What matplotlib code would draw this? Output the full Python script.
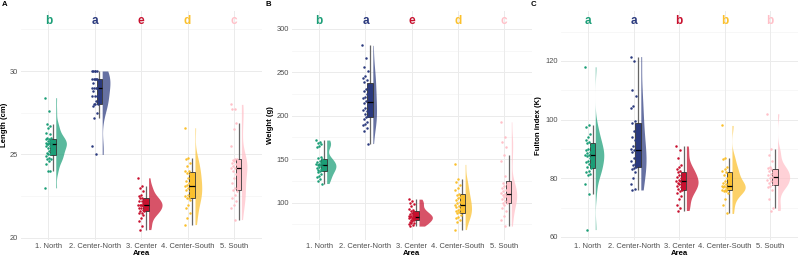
import numpy as np
import matplotlib
matplotlib.use("Agg")
import matplotlib.pyplot as plt
from matplotlib.patches import Rectangle

plt.rcParams['font.family'] = ['Liberation Sans', 'DejaVu Sans']

areas = ["1. North", "2. Center-North", "3. Center", "4. Center-South", "5. South"]
colors = ["#1B9E77", "#2B3A7E", "#C8102E", "#FBC02D", "#FFC0C8"]

# Panel A: Length (cm)
length_north = [28.4, 27.6, 26.8, 26.7, 26.6, 26.3, 26.2, 26.0, 26.0, 25.9, 25.9, 25.8, 25.8, 25.7, 25.7,
                25.6, 25.6, 25.6, 25.5, 25.5, 25.4, 25.3, 25.2, 25.1, 25.0, 25.0, 24.9, 24.8, 24.7, 24.7,
                24.6, 24.4, 24.0, 24.0, 23.0]
length_cnorth = [30, 30, 30, 30, 30, 29.5, 29.5, 29.5, 29.5, 29.5, 29.3, 29, 29, 29, 29, 28.8, 28.5, 28.5,
                 28.5, 28.2, 28, 28, 28, 27.9, 27.5, 27.2, 25.5, 25.0]
length_center = [23.6, 23.1, 23.0, 22.8, 22.6, 22.5, 22.4, 22.4, 22.3, 22.2, 22.2, 22.1, 22.0, 22.0, 22.0,
                 22.0, 21.9, 21.8, 21.8, 21.7, 21.6, 21.6, 21.5, 21.5, 21.4, 21.2, 21.0, 20.7, 20.5]
length_csouth = [26.6, 24.8, 24.7, 24.5, 24.3, 24.0, 24.0, 23.9, 23.8, 23.6, 23.4, 23.3, 23.2, 23.1, 23.0,
                 22.9, 22.8, 22.6, 22.5, 22.4, 22.4, 22.3, 22.0, 21.8, 21.5, 21.2, 20.8]
length_south = [28.0, 27.7, 27.7, 26.9, 26.5, 25.5, 24.75, 24.65, 24.7, 24.6, 24.5, 24.4, 24.3, 24.2, 24.2,
                24.0, 23.8, 23.6, 23.3, 23.0, 22.9, 22.8, 22.6, 22.4, 22.2, 22.0, 21.8, 21.1]

# Panel B: Weight (g)
weight_north = [172, 170, 169, 167, 165, 164, 152, 151, 150, 148, 147, 146, 145, 144, 143, 143, 142, 141,
                140, 139, 138, 137, 136, 135, 133, 131, 129, 127, 125, 122]
weight_cnorth = [281, 266, 256, 251, 246, 244, 241, 239, 234, 231, 229, 225, 222, 220, 217, 215, 212, 209,
                 207, 205, 202, 200, 198, 196, 193, 191, 189, 186, 182, 168]
weight_center = [104, 102, 100, 98, 96, 93, 91, 90, 89, 88, 87, 86, 85, 85, 84, 84, 83, 82, 82, 81, 80, 80,
                 79, 78, 77, 76, 75, 74, 73]
weight_csouth = [144, 127, 124, 120, 117, 114, 110, 109, 107, 105, 103, 101, 99, 97, 96, 95, 93, 92, 90, 89,
                 88, 86, 84, 82, 80, 78, 69]
weight_south = [193, 175, 170, 164, 155, 148, 131, 123, 121, 119, 117, 115, 113, 111, 110, 109, 108, 106,
                104, 102, 100, 99, 97, 94, 90, 85, 80, 73]

# Panel C: Fulton index (K)
fulton_north = [118, 98, 97.5, 95, 94, 93, 92.5, 92, 91, 90, 89.5, 89, 88.5, 88, 88, 87.5, 87, 86, 85.5, 85,
                84, 83.5, 82.5, 82, 81.5, 81, 78, 74.5, 62.5]
fulton_cnorth = [121.5, 120, 110, 108, 104.5, 104, 99.5, 99, 98, 96, 94, 93, 91, 90, 89.5, 89, 88, 87, 86,
                 85, 84.5, 84, 83.5, 83, 82, 80, 78, 76.5, 76]
fulton_center = [91, 89.5, 87, 84.5, 84, 83, 82.5, 82, 81.5, 81, 80.5, 80, 79.5, 79, 79, 78.5, 78, 78, 77.5,
                 77, 76.5, 76, 75.5, 75, 74, 73, 71, 70, 69]
fulton_csouth = [98, 87, 86.5, 84, 83, 82.5, 82, 81, 80, 79, 78.5, 78, 77.5, 77.5, 77, 77, 76.5, 76, 76,
                 75.5, 75.5, 75, 73, 71, 68]
fulton_south = [102, 90, 88, 86, 84, 83.5, 83, 82.5, 82, 81.5, 81, 80.5, 80, 79.5, 79, 78.5, 78, 77.5, 77,
                76, 73, 70, 69]

letters_length = ["b", "a", "e", "d", "c"]
letters_weight = ["b", "a", "e", "d", "c"]
letters_fulton = ["a", "a", "b", "b", "b"]

panels = [
    dict(tag="A", ylabel="Length (cm)",
         groups=[length_north, length_cnorth, length_center, length_csouth, length_south],
         letters=letters_length, ticks=[20, 25, 30], minor=[22.5, 27.5, 32.5],
         rect_px=(20.5, 241.3), ylab_x=-0.05, tag_x=1.5),
    dict(tag="B", ylabel="Weight (g)",
         groups=[weight_north, weight_cnorth, weight_center, weight_csouth, weight_south],
         letters=letters_weight, ticks=[100, 150, 200, 250, 300], minor=[75, 125, 175, 225, 275],
         rect_px=(291.6, 240.0), ylab_x=-0.072, tag_x=265.5),
    dict(tag="C", ylabel="Fulton index (K)",
         groups=[fulton_north, fulton_cnorth, fulton_center, fulton_csouth, fulton_south],
         letters=letters_fulton, ticks=[60, 80, 100, 120], minor=[70, 90, 110, 130],
         rect_px=(560.6, 237.0), ylab_x=-0.078, tag_x=530.5),
]

W, H = 798, 257
fig = plt.figure(figsize=(W / 100, H / 100), dpi=100)

def kde(data, grid):
    d = np.asarray(data, float)
    n = len(d)
    sd = d.std(ddof=1)
    q75, q25 = np.percentile(d, [75, 25])
    bw = 0.9 * min(sd, (q75 - q25) / 1.34) * n ** (-0.2)
    z = (grid[:, None] - d[None, :]) / bw
    return np.exp(-0.5 * z ** 2).sum(axis=1) / (n * bw * np.sqrt(2 * np.pi))

tick_fs = 5.4
for p in panels:
    left_px, width_px = p["rect_px"]
    bottom_px, top_px = 240.0, 10.5
    ax = fig.add_axes([left_px / W, 1 - bottom_px / H, width_px / W, (bottom_px - top_px) / H])
    groups = p["groups"]
    allv = np.concatenate([np.asarray(g, float) for g in groups])
    ytop = allv.max() * 1.1
    ymin = allv.min()
    rng = ytop - ymin
    ax.set_ylim(ymin - 0.05 * rng, ytop + 0.05 * rng)
    ax.set_xlim(0.4, 5.6)

    # grid
    for t in p["ticks"]:
        ax.axhline(t, color="#EBEBEB", lw=0.7, zorder=0)
    for t in p["minor"]:
        ax.axhline(t, color="#F3F3F3", lw=0.45, zorder=0)
    for i in range(5):
        ax.axvline(i + 1, color="#EBEBEB", lw=0.7, zorder=0)

    grids = []
    dens = []
    for g in groups:
        gr = np.linspace(min(g), max(g), 300)
        grids.append(gr)
        dens.append(kde(g, gr))
    dmax = max(d.max() for d in dens)
    vscale = 0.29 / dmax

    for i, g in enumerate(groups):
        x = i + 1
        c = colors[i]
        arr = np.asarray(g, float)
        # half violin
        ax.fill_betweenx(grids[i], x + 0.16, x + 0.16 + dens[i] * vscale, color=c, alpha=0.72,
                         lw=0, zorder=2)
        q1, med, q3 = np.percentile(arr, [25, 50, 75])
        iqr = q3 - q1
        wlo = arr[arr >= q1 - 1.5 * iqr].min()
        whi = arr[arr <= q3 + 1.5 * iqr].max()
        bx = x + 0.1
        bw_ = 0.12
        ax.plot([bx, bx], [wlo, whi], color="#666666", lw=0.9, zorder=3, solid_capstyle="butt")
        ax.add_patch(Rectangle((bx - bw_ / 2, q1), bw_, q3 - q1, facecolor=c, edgecolor="#333333",
                               lw=0.6, zorder=4))
        ax.plot([bx - bw_ / 2, bx + bw_ / 2], [med, med], color="black", lw=0.9, zorder=5,
                solid_capstyle="butt")
        # deterministic jitter
        n = len(arr)
        jit = (((np.arange(n) * 0.6180339887) % 1.0) - 0.5) * 0.13
        ax.scatter(x + jit, arr, s=3.2, color=c, lw=0, zorder=6)
        ax.text(x, ytop, p["letters"][i], color=c, fontsize=8.5, fontweight="bold",
                ha="center", va="center", zorder=7)

    ax.set_xticks(range(1, 6))
    ax.set_xticklabels(areas, fontsize=tick_fs, color="#4D4D4D")
    ax.set_yticks(p["ticks"])
    ax.set_yticklabels([str(t) for t in p["ticks"]], fontsize=tick_fs, color="#4D4D4D")
    ax.tick_params(length=0, pad=2)
    for s in ax.spines.values():
        s.set_visible(False)
    ax.set_xlabel("Area", fontsize=5.6, fontweight="bold", labelpad=0.5)
    ax.set_ylabel(p["ylabel"], fontsize=5.6, fontweight="bold")
    ax.yaxis.set_label_coords(p["ylab_x"], 0.5)
    fig.text(p["tag_x"] / W, 0.995, p["tag"], fontsize=5.6, fontweight="bold", ha="left", va="top")

fig.savefig("out.png", dpi=100)
